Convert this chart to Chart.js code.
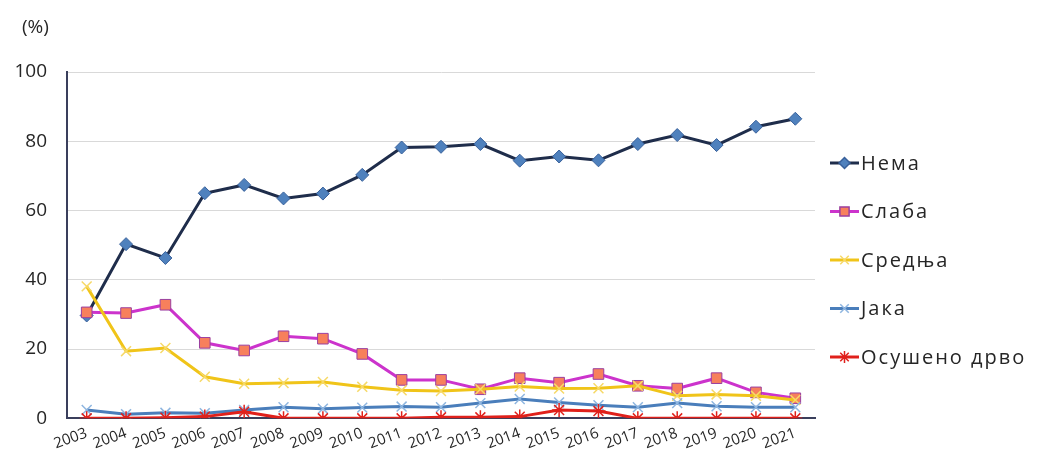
<!DOCTYPE html>
<html>
<head>
<meta charset="utf-8">
<script src="https://cdn.jsdelivr.net/npm/chart.js@4.4.1/dist/chart.umd.min.js"></script>
<style>
    html, body { margin: 0; padding: 0; background: #ffffff; }
    #wrap { width: 1037px; height: 465px; position: relative; }
</style>
</head>
<body>
<div id="wrap"><canvas id="chart"></canvas></div>
<script>
// податоци
const years = ["2003", "2004", "2005", "2006", "2007", "2008", "2009", "2010", "2011", "2012",
               "2013", "2014", "2015", "2016", "2017", "2018", "2019", "2020", "2021"];
const nema     = [29.7, 50.3, 46.3, 65.0, 67.4, 63.5, 64.9, 70.3, 78.2, 78.4, 79.2, 74.4, 75.6, 74.5, 79.2, 81.8, 78.9, 84.2, 86.5];
const slaba    = [30.6, 30.4, 32.8, 21.8, 19.6, 23.7, 23.0, 18.6, 11.1, 11.1, 8.4, 11.6, 10.3, 12.8, 9.4, 8.6, 11.6, 7.5, 5.8];
const srednja  = [38.1, 19.4, 20.3, 12.0, 10.0, 10.2, 10.5, 9.1, 8.1, 7.9, 8.4, 9.2, 8.6, 8.7, 9.4, 6.5, 6.9, 6.5, 5.3];
const jaka     = [2.4, 1.2, 1.6, 1.5, 2.4, 3.2, 2.8, 3.1, 3.4, 3.2, 4.4, 5.6, 4.6, 3.8, 3.2, 4.4, 3.5, 3.2, 3.2];
const osuseno  = [0.0, 0.0, 0.2, 0.5, 1.9, 0.0, 0.0, 0.0, 0.0, 0.3, 0.3, 0.5, 2.4, 2.1, 0.0, 0.0, 0.0, 0.0, 0.0];
const seriesNames = ["Нема", "Слаба", "Средња", "Јака", "Осушено дрво"];
const yTicks = [0, 20, 40, 60, 80, 100];

const FONT = "'Open Sans', 'Noto Sans', sans-serif";

const styles = [
    { line: "#1f2d4b", fill: "#4f81bd", border: "#38609a", point: "rectRot",  r: 6.5 },
    { line: "#cc33cc", fill: "#f7805c", border: "#9b3fa0", point: "rect",     r: 7.5 },
    { line: "#f0c419", fill: "#f6d968", border: "#f6d968", point: "crossRot", r: 7 },
    { line: "#4a7ebb", fill: "#8fb6e0", border: "#8fb6e0", point: "crossRot", r: 7 },
    { line: "#e0201b", fill: "#e0201b", border: "#e0201b", point: "star",     r: 7 }
];
const allData = [nema, slaba, srednja, jaka, osuseno];

const datasets = allData.map(function(d, i)
{
    const s = styles[i];
    return {
        label: seriesNames[i],
        data: d,
        borderColor: s.line,
        borderWidth: 3,
        backgroundColor: s.fill,
        pointStyle: s.point,
        pointRadius: s.r,
        pointBackgroundColor: s.fill,
        pointBorderColor: s.border,
        pointBorderWidth: (s.point === "rectRot" || s.point === "rect") ? 1 : 1.5,
        tension: 0,
        order: 5 - i
    };
});

// легенда и "(%)" се цртаат рачно
const sideLegend =
{
    id: "sideLegend",
    afterDraw: function(chart)
    {
        const ctx = chart.ctx;
        ctx.save();
        ctx.font = "19px " + FONT;
        ctx.fillStyle = "#262626";
        ctx.textBaseline = "middle";
        ctx.textAlign = "left";
        ctx.fillText("(%)", 22, 28);

        ctx.font = "20px " + FONT;
        for (let i = 0; i < seriesNames.length; i++)
        {
            const s = styles[i];
            const y = 163 + i * 48.5;
            ctx.strokeStyle = s.line;
            ctx.lineWidth = 3;
            ctx.beginPath();
            ctx.moveTo(830, y);
            ctx.lineTo(859, y);
            ctx.stroke();
            ctx.fillStyle = s.fill;
            ctx.strokeStyle = s.border;
            ctx.lineWidth = 1.5;
            Chart.helpers.drawPoint(ctx, { pointStyle: s.point, radius: s.r - 1, borderWidth: 1.5, rotation: 0 }, 844.5, y);
            ctx.fillStyle = "#262626";
            ctx.letterSpacing = "2px";
            ctx.fillText(seriesNames[i], 861, y + 1);
            ctx.letterSpacing = "0px";
        }
        ctx.restore();
    }
};

new Chart(document.getElementById("chart"),
{
    type: "line",
    data: { labels: years, datasets: datasets },
    options:
    {
        responsive: true,
        maintainAspectRatio: false,
        animation: false,
        layout: { padding: { left: 0, right: 222, top: 72, bottom: 6 } },
        plugins:
        {
            legend: { display: false },
            tooltip: { enabled: false },
            title: { display: false }
        },
        scales:
        {
            y:
            {
                min: 0,
                max: 100,
                afterBuildTicks: function(axis)
                {
                    axis.ticks = yTicks.map(function(v) { return { value: v }; });
                },
                afterFit: function(axis) { axis.width = 67; },
                ticks: { color: "#262626", font: { family: FONT, size: 19 }, padding: 20 },
                grid: { color: "#d9d9d9", lineWidth: 1, drawTicks: false },
                border: { color: "#3a3f5c", width: 2 }
            },
            x:
            {
                offset: true,
                ticks:
                {
                    color: "#262626",
                    font: { family: FONT, size: 15 },
                    minRotation: 20,
                    maxRotation: 20,
                    autoSkip: false,
                    padding: 6
                },
                grid: { display: false, drawTicks: false },
                border: { color: "#3a3f5c", width: 2 }
            }
        }
    },
    plugins: [sideLegend]
});
</script>
</body>
</html>
